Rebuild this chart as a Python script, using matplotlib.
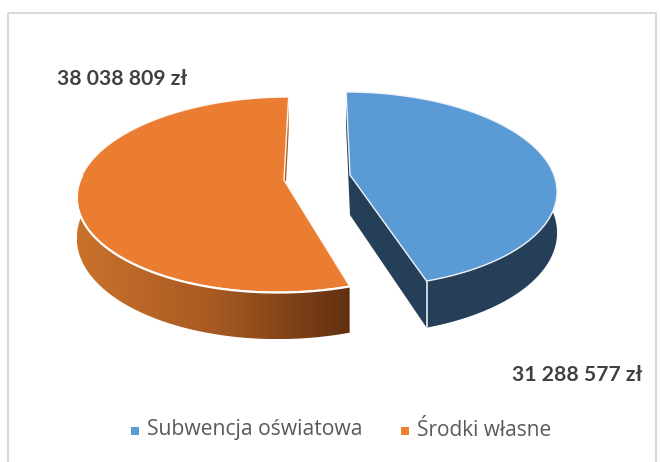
import matplotlib
matplotlib.use("Agg")
import matplotlib.pyplot as plt
from matplotlib.colors import LinearSegmentedColormap
from matplotlib.patches import Polygon, Rectangle
import numpy as np

categories = ["Subwencja oświatowa", "Środki własne"]
values = [31288577, 38038809]
value_labels = ["31 288 577 zł", "38 038 809 zł"]
colors = ["#5B9BD5", "#EB7D32"]

# pie geometry in pixels, the pie is tilted so the front looks bigger
R = 204
A = 95.4
K = 0.149
DEPTH = 40
VIEW_X = 320
centers = [(350, 175), (284, 180)]


def project(angle, center, r=1.0, drop=0.0):
    u = r * np.sin(angle)
    v = r * np.cos(angle)
    s = 1 / (1 + K * v)
    x = VIEW_X + (center[0] - VIEW_X + R * u) * s
    return np.column_stack((x, center[1] - A * v * s + drop * s))


def arc(a0, a1, center, drop=0.0):
    return project(np.linspace(a0, a1, 200), center, drop=drop)


def apex(center, drop=0.0):
    return np.array([[center[0], center[1] + drop]])


fig = plt.figure(figsize=(6.6, 4.62), dpi=100)
ax = fig.add_axes([0, 0, 1, 1])
ax.set_xlim(0, 660)
ax.set_ylim(462, 0)
ax.axis("off")

# chart frame
ax.add_patch(Rectangle((8, 13), 648, 470, fill=False, ec="#D9D9D9", lw=1.5))

total = sum(values)
split = 2 * np.pi * values[0] / total

# blue slice
c = centers[0]
inner = np.vstack((apex(c), arc(split, split, c), arc(split, split, c, DEPTH), apex(c, DEPTH)))
back = np.vstack((apex(c), arc(0, 0, c), arc(0, 0, c, DEPTH), apex(c, DEPTH)))
side = np.vstack((arc(np.pi / 2 - 0.15, split, c), arc(split, np.pi / 2 - 0.15, c, DEPTH)))
ax.add_patch(Polygon(back, fc="#243F57", ec="none"))
ax.add_patch(Polygon(inner, fc="#243F57", ec="none"))
ax.add_patch(Polygon(side, fc="#243F57", ec="none"))
edge = arc(split, split, c)
ax.plot([edge[0, 0], edge[0, 0]], [edge[0, 1], edge[0, 1] + DEPTH * 1.16], color="#E4E8EC", lw=1.2)
top = np.vstack((apex(c), arc(0, split, c)))
ax.add_patch(Polygon(top, fc=colors[0], ec="#EEF3F8", lw=1.0, joinstyle="miter"))

# orange slice
c = centers[1]
back = np.vstack((apex(c), arc(2 * np.pi, 2 * np.pi, c), arc(2 * np.pi, 2 * np.pi, c, DEPTH), apex(c, DEPTH)))
ax.add_patch(Polygon(back, fc="#A85F20", ec="none"))
side_a1 = 3 * np.pi / 2 + 0.15
side = np.vstack((arc(split, side_a1, c), arc(side_a1, split, c, DEPTH)))
cmap = LinearSegmentedColormap.from_list("side", ["#C9722C", "#A85A22", "#62300F"])
x0, x1 = side[:, 0].min(), side[:, 0].max()
y0, y1 = side[:, 1].min(), side[:, 1].max()
grad = ax.imshow(np.linspace(0, 1, 256)[None, :], cmap=cmap, extent=(x0, x1, y1, y0), aspect="auto", zorder=1)
grad.set_clip_path(Polygon(side, transform=ax.transData))
top = np.vstack((apex(c), arc(split, 2 * np.pi, c)))
ax.add_patch(Polygon(top, fc=colors[1], ec="#FFF8F2", lw=1.0, joinstyle="miter", zorder=2))
rim = arc(split, side_a1 - 0.1, c)
ax.plot(rim[:, 0], rim[:, 1] + 0.5, color="white", lw=1.5, zorder=3)
ax.set_xlim(0, 660)
ax.set_ylim(462, 0)

# value labels
ax.text(512, 375, value_labels[0], fontsize=15.2, fontweight="bold", family="Lato",
        color="#404040", va="center", ha="left")
ax.text(57, 79, value_labels[1], fontsize=15.2, fontweight="bold", family="Lato",
        color="#404040", va="center", ha="left")

# legend
ax.add_patch(Rectangle((131, 427), 8, 8, fc=colors[0], ec="none"))
ax.text(147, 430, categories[0], fontsize=15.2, family="Open Sans", color="#595959", va="center", ha="left")
ax.add_patch(Rectangle((401, 427), 8, 8, fc="#F08030", ec="none"))
ax.text(417, 430, categories[1], fontsize=15, family="Open Sans", color="#595959", va="center", ha="left")

fig.savefig("out.png", dpi=100)
plt.close()
